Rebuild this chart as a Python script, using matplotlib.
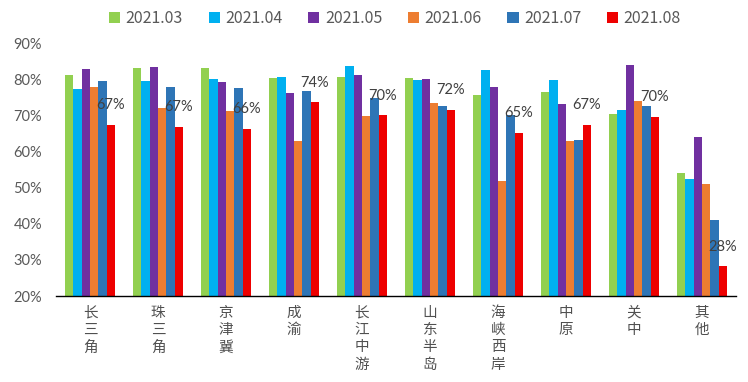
import matplotlib
matplotlib.use("Agg")
import matplotlib.pyplot as plt
import numpy as np

categories = ["长三角", "珠三角", "京津冀", "成渝", "长江中游", "山东半岛", "海峡西岸", "中原", "关中", "其他"]
series_names = ["2021.03", "2021.04", "2021.05", "2021.06", "2021.07", "2021.08"]
s_2021_03 = [81.2, 83.2, 83.2, 80.4, 80.7, 80.4, 75.7, 76.5, 70.4, 54.1]
s_2021_04 = [77.3, 79.6, 80.2, 80.7, 83.7, 79.8, 82.6, 79.8, 71.5, 52.4]
s_2021_05 = [82.9, 83.4, 79.3, 76.2, 81.2, 80.1, 77.9, 73.2, 84.0, 64.0]
s_2021_06 = [77.9, 72.1, 71.2, 62.9, 69.9, 73.5, 51.9, 62.9, 74.0, 51.0]
s_2021_07 = [79.6, 77.9, 77.6, 76.8, 74.8, 72.6, 70.1, 63.2, 72.6, 41.0]
s_2021_08 = [67.4, 66.9, 66.3, 73.6, 70.1, 71.6, 65.2, 67.4, 69.6, 28.3]
yticks = [20, 30, 40, 50, 60, 70, 80, 90]

series = [s_2021_03, s_2021_04, s_2021_05, s_2021_06, s_2021_07, s_2021_08]
colors = ["#92D050", "#00B0F0", "#7030A0", "#ED7D31", "#2E75B6", "#EE0000"]

plt.rcParams['font.family'] = ['Noto Sans CJK SC', 'DejaVu Sans']

fig = plt.figure(figsize=(7.48, 3.82), dpi=100)
ax = fig.add_axes([0.0749, 0.225, 0.909, 0.662])

x = np.arange(len(categories))
w = 0.123
for i, (vals, c, name) in enumerate(zip(series, colors, series_names)):
    ax.bar(x + (i - 2.5) * w, vals, width=w, color=c, label=name, zorder=2)

# labels on last series
for xi, v in zip(x + 2.5 * w, s_2021_08):
    ax.annotate(f"{v:.0f}%", (xi, v), xytext=(0, 9), textcoords="offset points",
                ha="center", va="bottom", fontsize=10.5, color="#404040",
                family=["Lato", "DejaVu Sans"])

ax.set_ylim(20, 90)
ax.set_xlim(-0.5, len(categories) - 0.5)
ax.set_yticks(yticks)
ax.set_yticklabels([f"{t}%" for t in yticks], family=["Lato", "DejaVu Sans"],
                   fontsize=10.5, color="#595959")
ax.set_xticks(x)
ax.set_xticklabels(["\n".join(c) for c in categories], fontsize=10.5, color="#505050",
                   fontweight="light", linespacing=1.3, va="top")
ax.tick_params(axis="both", length=0)
ax.tick_params(axis="x", pad=7)
ax.tick_params(axis="y", pad=10)
for s in ["left", "right", "top"]:
    ax.spines[s].set_visible(False)
ax.spines["bottom"].set_color("#000000")
ax.spines["bottom"].set_linewidth(1.0)

leg = fig.legend(loc="center", bbox_to_anchor=(0.528, 0.952), ncol=6, frameon=False,
                 prop={"family": ["Noto Sans CJK SC", "DejaVu Sans"], "size": 11.5},
                 handlelength=0.7, handleheight=0.7, handletextpad=0.35,
                 columnspacing=1.6)
for t in leg.get_texts():
    t.set_color("#595959")

fig.savefig("out.png", dpi=100)
